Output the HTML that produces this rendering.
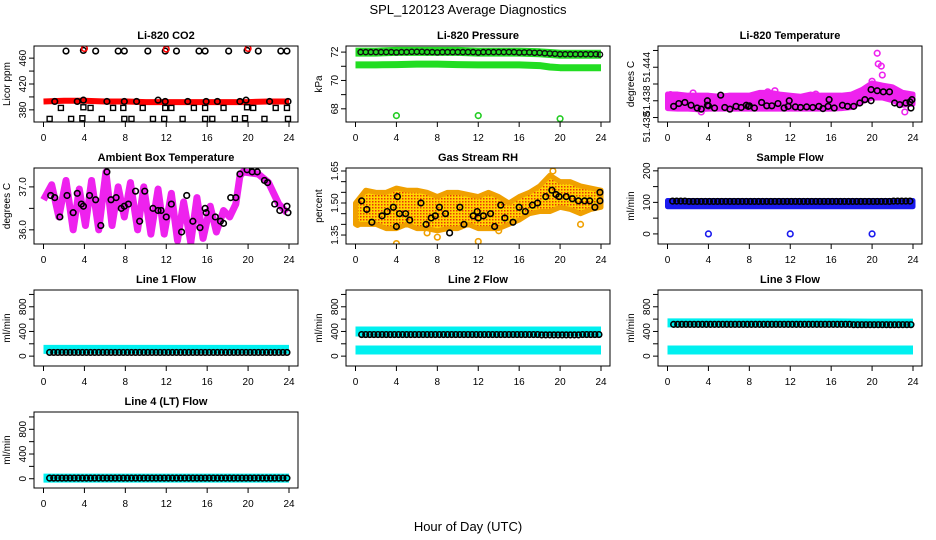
<!DOCTYPE html>
<html><head><meta charset="utf-8">
<style>
html,body{margin:0;padding:0;background:#fff;}
svg{display:block;font-family:"Liberation Sans",Arial,sans-serif;}
</style></head>
<body>
<svg id="chart" width="936" height="540" viewBox="0 0 936 540" xmlns="http://www.w3.org/2000/svg">
<defs>
<pattern id="rhpat" width="3" height="3" patternUnits="userSpaceOnUse">
<rect width="3" height="3" fill="#ffd400"/><rect x="0" y="0" width="1.5" height="1.5" fill="#e8360a"/>
</pattern>
</defs>
<text x="468" y="14" text-anchor="middle" font-size="13">SPL_120123  Average Diagnostics</text>
<text x="468" y="531" text-anchor="middle" font-size="13">Hour of Day (UTC)</text>
</svg>
<script>
// ---- data ----
const xTicks=[0,4,8,12,16,20,24];
// CO2
const co2BandX=[0,2,4,6,8,10,12,14,16,18,20,22,24];
const co2BandY=[393,394,394,393,393,392,392,392,392,392,392,393,393];
const co2MidX=[1.1,3.3,3.9,6.2,7.9,9.1,11.2,11.9,14.1,15.9,17.0,19.2,19.8,22.1,23.9];
const co2MidY=[393,393,395,393,393,393,395,393,393,393,393,393,395,393,393];
const co2HiX=[2.2,3.9,5.1,7.3,7.9,10.2,11.9,13.0,15.2,15.8,18.1,19.9,21.0,23.2,23.8];
const co2HiY=[471,472,471,471,471,471,471,471,471,471,471,472,471,471,471];
const co2RedX=[4,12,20];
const co2RedY=[475,474,475];
const co2SqAX=[1.7,3.9,4.6,6.8,7.8,9.7,11.9,12.5,14.7,15.8,17.6,19.9,20.5,22.7,23.8];
const co2SqAY=[383,384,383,383,383,383,383,383,383,383,383,384,383,383,383];
const co2SqBX=[0.6,2.7,3.8,5.7,7.9,8.6,10.7,11.8,13.6,15.8,16.5,18.7,19.7,21.6,23.9];
const co2SqBY=[366,366,367,366,366,366,366,366,366,366,366,366,367,366,366];
// Pressure
const prX=[0,2,4,6,8,10,12,14,16,18,19,20,22,24];
const prHi=[72.0,72.0,72.05,72.05,72.05,72.05,72.0,72.0,72.0,71.95,71.9,71.85,71.85,71.85];
const prLo=[71.1,71.1,71.12,71.15,71.15,71.12,71.1,71.1,71.1,71.05,70.95,70.9,70.9,70.9];
const prBlackX=[0.5,1,1.5,2,2.5,3,3.5,4,4.5,5,5.5,6,6.5,7,7.5,8,8.5,9,9.5,10,10.5,11,11.5,12,12.5,13,13.5,14,14.5,15,15.5,16,16.5,17,17.5,18,18.5,19,19.5,20,20.5,21,21.5,22,22.5,23,23.5,23.9];
const prBlackY=[72.0,72.0,72.0,72.0,72.0,72.0,72.0,71.98,72.0,72.0,72.02,72.02,72.02,72.0,72.0,71.98,72.0,72.0,72.0,72.0,72.0,72.0,72.0,71.97,72.0,72.0,72.0,72.0,72.0,72.0,72.0,71.97,71.98,71.98,71.95,71.95,71.92,71.9,71.88,71.85,71.85,71.85,71.85,71.85,71.85,71.85,71.85,71.83];
const prOutX=[4,12,20];
const prOutY=[67.52,67.52,67.3];
// Li-820 temperature
const tX=[0,1,2,3,4,5,6,7,8,9,10,11,12,13,14,15,16,17,18,19,20,21,22,23,24];
const tHi=[51.4392,51.4392,51.4390,51.4390,51.4390,51.4388,51.4390,51.4390,51.4390,51.4395,51.4395,51.4392,51.4390,51.4388,51.4392,51.4390,51.4390,51.4390,51.4392,51.4400,51.4412,51.4408,51.4405,51.4395,51.4392];
const tLo=[51.4366,51.4365,51.4365,51.4364,51.4365,51.4365,51.4365,51.4365,51.4365,51.4365,51.4365,51.4365,51.4365,51.4365,51.4365,51.4365,51.4365,51.4366,51.4368,51.4378,51.4385,51.4385,51.4380,51.4372,51.4374];
const tOutX=[20.5,20.6,20.9,21.0,20.0,2.5,5.2,10.5,14.5,0.3,23.2,3.3,9.8,19.5];
const tOutY=[51.4465,51.4446,51.4442,51.4426,51.4415,51.4394,51.4390,51.4398,51.4392,51.4391,51.4360,51.4360,51.4396,51.4402];
const tBlackX=[0.6,1.1,1.7,2.3,2.9,3.3,3.9,3.9,4.0,4.6,5.2,5.6,6.1,6.7,7.2,7.7,7.9,8.0,8.5,9.2,9.7,10.2,10.8,11.4,11.8,11.9,12.5,13.0,13.6,14.2,14.8,15.2,15.7,15.8,16.3,17.1,17.6,18.2,18.8,19.3,19.9,19.9,20.5,21.1,21.7,22.2,22.7,23.3,23.7,23.8,23.9];
const tBlackY=[51.4370,51.4375,51.4377,51.4372,51.4367,51.4365,51.4380,51.4372,51.4371,51.4367,51.4390,51.4368,51.4365,51.4370,51.4368,51.4372,51.4370,51.4371,51.4367,51.4377,51.4371,51.4371,51.4375,51.4367,51.4370,51.4380,51.4369,51.4368,51.4369,51.4368,51.4370,51.4366,51.4370,51.4382,51.4367,51.4372,51.4370,51.4370,51.4376,51.4382,51.4380,51.4400,51.4398,51.4396,51.4396,51.4376,51.4373,51.4376,51.4378,51.4367,51.4382];
// Ambient box temperature
const abX=[0,0.8,1.5,2.2,2.9,3.5,4.1,4.7,5.4,6.1,6.7,7.3,7.9,8.5,9.2,9.8,10.5,11.2,11.8,12.5,13.1,13.7,14.4,15.0,15.6,16.3,16.9,17.6,18.2,18.8,19.2,19.5,21.0,22.0,23.0,23.8];
const abY=[36.7,37.05,36.3,37.15,36.0,36.95,36.1,37.15,36.0,37.35,36.1,37.0,36.3,37.1,36.0,37.0,35.9,36.95,35.9,36.85,35.75,36.65,35.7,36.75,35.8,36.55,35.95,36.45,36.3,36.6,37.25,37.35,37.3,37.1,36.6,36.4];
const abBlackX=[0.7,1.1,1.6,2.3,2.9,3.3,3.7,3.9,4.5,5.1,5.6,6.2,6.6,7.1,7.6,7.9,8.3,9.0,9.4,9.9,10.7,11.2,11.5,12.0,12.5,13.5,14.0,14.6,15.3,15.8,15.9,16.8,17.3,17.6,18.3,18.8,19.2,19.9,20.4,20.9,21.6,21.9,22.6,23.1,23.8,23.9];
const abBlackY=[36.8,36.75,36.3,36.8,36.4,36.85,36.6,36.55,36.8,36.7,36.1,37.35,36.7,36.75,36.5,36.55,36.6,36.9,36.2,36.9,36.5,36.45,36.45,36.3,36.6,35.95,36.8,36.2,36.05,36.5,36.4,36.3,36.2,36.15,36.75,36.75,37.3,37.4,37.35,37.35,37.15,37.1,36.6,36.45,36.55,36.4];
// Gas stream RH
const rhX=[0,1,2,3,4,5,6,7,8,9,10,11,12,13,14,15,16,17,18,19,20,21,22,23,24];
const rhHi=[1.50,1.56,1.55,1.55,1.57,1.56,1.56,1.55,1.53,1.55,1.55,1.54,1.53,1.55,1.53,1.50,1.53,1.55,1.58,1.63,1.60,1.60,1.58,1.57,1.56];
const rhLo=[1.40,1.40,1.40,1.38,1.38,1.40,1.38,1.38,1.37,1.38,1.38,1.40,1.38,1.38,1.38,1.40,1.42,1.45,1.46,1.46,1.48,1.47,1.45,1.47,1.48];
const rhOutX=[4,8,12,22,19.3,0.2,7.0,14.0];
const rhOutY=[1.31,1.34,1.32,1.40,1.65,1.40,1.36,1.37];
const rhBlackX=[0.6,1.1,1.6,2.6,3.1,3.7,4.0,4.1,4.3,4.9,5.3,6.4,6.9,7.4,7.8,8.2,8.8,9.2,10.2,10.6,11.5,11.9,12.0,12.5,13.2,13.6,14.2,14.6,15.4,16.0,16.6,17.3,17.8,18.6,19.2,19.6,19.9,20.6,21.2,21.8,22.4,22.9,23.4,23.9,23.9];
const rhBlackY=[1.51,1.47,1.41,1.44,1.46,1.48,1.39,1.53,1.45,1.45,1.42,1.50,1.40,1.43,1.44,1.48,1.45,1.36,1.48,1.40,1.44,1.46,1.43,1.44,1.45,1.39,1.49,1.43,1.41,1.48,1.46,1.49,1.50,1.53,1.56,1.54,1.53,1.53,1.52,1.51,1.51,1.51,1.48,1.55,1.51];
// Sample flow
const sfX=[0,4,8,12,16,20,24];
const sfHi=[106,106,106,106,106,106,106];
const sfLo=[86,86,86,86,86,86,86];
const sfBlack=[104,103,103,103,103,103,104];
const sfOutX=[4,12,20];
const sfOutY=[0,0,0];
// Line flows (ml/min)
const lfX=[0,4,8,12,16,20,24];
const l1Cyan=[110,110,110,110,110,110,110];
const l1Black=[60,60,60,60,60,60,60];
const l2CyanHi=[400,400,400,400,400,400,400];
const l2CyanLo=[100,100,100,100,100,100,100];
const l2Black=[350,350,350,350,350,345,350];
const l3CyanHi=[540,540,540,540,540,535,535];
const l3CyanLo=[100,100,100,100,100,100,100];
const l3Black=[515,515,515,515,515,510,510];
const l4Cyan=[10,10,10,10,10,10,10];
const l4Black=[10,10,10,10,10,10,10];

// ---- layout ----
const NS="http://www.w3.org/2000/svg";
const svg=document.getElementById('chart');
const colLeft=[34,346,658], rowTop=[46,168,290,412], W=264, H=76;
function mk(tag,attrs,parent){const e=document.createElementNS(NS,tag);for(const k in attrs)e.setAttribute(k,attrs[k]);(parent||svg).appendChild(e);return e;}
function panel(col,row,dom,ticks,labels,title,ylab,name){
  const L=colLeft[col],T=rowTop[row],B=T+H;
  const g=mk('g',{});
  
  
  const x0=L+9.5,x1=L+255;
  const P={g,L,T,B,
    x:h=>x0+h/24*(x1-x0),
    y:v=>B-(v-dom[0])/(dom[1]-dom[0])*H};
  const clip=mk('clipPath',{id:'c'+name},svg.querySelector('defs'));
  mk('rect',{x:L,y:T,width:W,height:H},clip);
  P.clip=mk('g',{'clip-path':'url(#c'+name+')'},g);
  
  
  const t=mk('text',{x:L+W/2,y:T-7,'text-anchor':'middle','font-size':11,'font-weight':'bold'},g);t.textContent=title;
  
  
  const xa=mk('g',{},g);
  
  
  mk('line',{x1:P.x(0),x2:P.x(24),y1:B,y2:B,stroke:'#000'},xa);
  xTicks.forEach(h=>{mk('line',{x1:P.x(h),x2:P.x(h),y1:B,y2:B+5,stroke:'#000'},xa);
    const tx=mk('text',{x:P.x(h),y:B+19,'text-anchor':'middle','font-size':10},xa);tx.textContent=h;});
  const ya=mk('g',{},g);
  
  
  ticks.forEach(v=>{const yy=P.y(v);mk('line',{x1:L-5,x2:L,y1:yy,y2:yy,stroke:'#000'},ya);});
  labels.forEach(lb=>{const yy=P.y(lb[0]);const tx=mk('text',{x:L-8,y:yy,'text-anchor':'middle','font-size':10,transform:`rotate(-90 ${L-8} ${yy})`},ya);tx.textContent=lb[1];});
  const yl=mk('text',{x:L-24,y:T+H/2,'text-anchor':'middle','font-size':10,transform:`rotate(-90 ${L-24} ${T+H/2})`},ya);yl.textContent=ylab;
  
  
  P.box=()=>{const b=mk('rect',{x:L,y:T,width:W,height:H,fill:'none',stroke:'#000'},g);};
  return P;
}
function band(P,xs,ys,color,w,nm){
  const pl=mk('polyline',{points:xs.map((h,i)=>P.x(h)+','+P.y(ys[i])).join(' '),fill:'none',stroke:color,'stroke-width':w,'stroke-linejoin':'round'},P.clip);
  
  
}
function area(P,xs,hi,lo,fill,nm){
  const pts=xs.map((h,i)=>P.x(h)+','+P.y(hi[i])).concat(xs.slice().reverse().map((h,i)=>P.x(h)+','+P.y(lo[xs.length-1-i])));
  const p=mk('polygon',{points:pts.join(' '),fill:fill,stroke:fill==='url(#rhpat)'?'#f0a000':fill,'stroke-width':5,'stroke-linejoin':'round'},P.clip);
  
  
}
function pts(P,xs,ys,color,nm,r,sw){
  xs.forEach((h,i)=>{const c=mk('circle',{cx:P.x(h),cy:P.y(ys[i]),r:r||2.8,fill:'none',stroke:color,'stroke-width':sw||1.6},P.clip);
    
    });
}
function sq(P,xs,ys,nm){
  xs.forEach((h,i)=>{const cx=P.x(h),cy=P.y(ys[i]);const s=mk('rect',{x:cx-2.5,y:cy-2.5,width:5,height:5,fill:'none',stroke:'#000','stroke-width':1.4},P.clip);
    
    });
}
function row(P,xs,ys,color,nm,start,end){
  for(let h=start;h<=end+0.001;h+=0.4){let k=0;for(let j=0;j<xs.length;j++)if(Math.abs(xs[j]-h)<Math.abs(xs[k]-h))k=j;
    const c=mk('circle',{cx:P.x(h),cy:P.y(ys[k]),r:2.8,fill:'none',stroke:color,'stroke-width':1.6},P.clip);
    
    }
}

let P=panel(0,0,[361.2,478.8],[380,400,420,440,460],[[380,'380'],[420,'420'],[460,'460']],'Li-820 CO2','Licor ppm','co2');
band(P,co2BandX,co2BandY,'#ff0000',6,'co2-red-band');
pts(P,co2MidX,co2MidY,'#000','co2-mid-point');
pts(P,co2HiX,co2HiY,'#000','co2-high-point');
pts(P,co2RedX,co2RedY,'#ff0000','co2-red-point');
sq(P,co2SqAX,co2SqAY,'co2-square-a');
sq(P,co2SqBX,co2SqBY,'co2-square-b');
P.box();
P=panel(1,0,[67.07,72.43],[68,69,70,71,72],[[68,'68'],[70,'70'],[72,'72']],'Li-820 Pressure','kPa','pressure');
band(P,prX,prHi,'#22dd22',9,'pressure-high-band');
band(P,prX,prLo,'#22dd22',7,'pressure-low-band');
pts(P,prBlackX,prBlackY,'#111','pressure-black-point',2.6,1.4);
pts(P,prOutX,prOutY,'#22cc22','pressure-outlier');
P.box();
P=panel(2,0,[51.4342,51.4478],[51.435,51.438,51.441,51.444,51.447],[[51.444,'51.444'],[51.438,'51.438'],[51.4333,'51.438']],'Li-820 Temperature','degrees C','licor-temp');
area(P,tX,tHi,tLo,'#ee22ee','licor-temp-cloud');
pts(P,tOutX,tOutY,'#ee22ee','licor-temp-outlier');
pts(P,tBlackX,tBlackY,'#000','licor-temp-black-point');
P.box();
P=panel(0,1,[35.67,37.44],[36.0,36.5,37.0],[[36.0,'36.0'],[37.0,'37.0']],'Ambient Box Temperature','degrees C','ambient');
band(P,abX,abY,'#ee22ee',7,'ambient-magenta-series');
pts(P,abBlackX,abBlackY,'#000','ambient-black-point');
P.box();
P=panel(1,1,[1.308,1.664],[1.35,1.40,1.45,1.50,1.55,1.60,1.65],[[1.35,'1.35'],[1.50,'1.50'],[1.65,'1.65']],'Gas Stream RH','percent','rh');
area(P,rhX,rhHi,rhLo,'url(#rhpat)','rh-cloud');
pts(P,rhOutX,rhOutY,'#f0a000','rh-outlier');
pts(P,rhBlackX,rhBlackY,'#000','rh-black-point');
P.box();
P=panel(2,1,[-32,209],[0,50,100,150,200],[[0,'0'],[100,'100'],[200,'200']],'Sample Flow','ml/min','sample-flow');
area(P,sfX,sfHi,sfLo,'#1a1aee','sample-flow-band');
row(P,sfX,sfBlack,'#000','sample-flow-black-point',0.5,23.9);
pts(P,sfOutX,sfOutY,'#1a1aee','sample-flow-outlier');
P.box();
const fdom=[-160,1072],ft=[0,200,400,600,800,1000],fl=[[0,'0'],[400,'400'],[800,'800']];
P=panel(0,2,fdom,ft,fl,'Line 1 Flow','ml/min','line1');
band(P,lfX,l1Cyan,'#00f0f0',9,'line1-cyan-band');
row(P,lfX,l1Black,'#000','line1-black-point',0.6,23.8);
P.box();
P=panel(1,2,fdom,ft,fl,'Line 2 Flow','ml/min','line2');
band(P,lfX,l2CyanHi,'#00f0f0',10,'line2-cyan-high');
band(P,lfX,l2CyanLo,'#00f0f0',9,'line2-cyan-low');
row(P,lfX,l2Black,'#000','line2-black-point',0.6,23.9);
P.box();
P=panel(2,2,fdom,ft,fl,'Line 3 Flow','ml/min','line3');
band(P,lfX,l3CyanHi,'#00f0f0',9,'line3-cyan-high');
band(P,lfX,l3CyanLo,'#00f0f0',9,'line3-cyan-low');
row(P,lfX,l3Black,'#000','line3-black-point',0.6,23.9);
P.box();
P=panel(0,3,[-150,1080],ft,fl,'Line 4 (LT) Flow','ml/min','line4');
band(P,lfX,l4Cyan,'#00f0f0',9,'line4-cyan-band');
row(P,lfX,l4Black,'#000','line4-black-point',0.6,23.9);
P.box();
</script>
</body></html>
